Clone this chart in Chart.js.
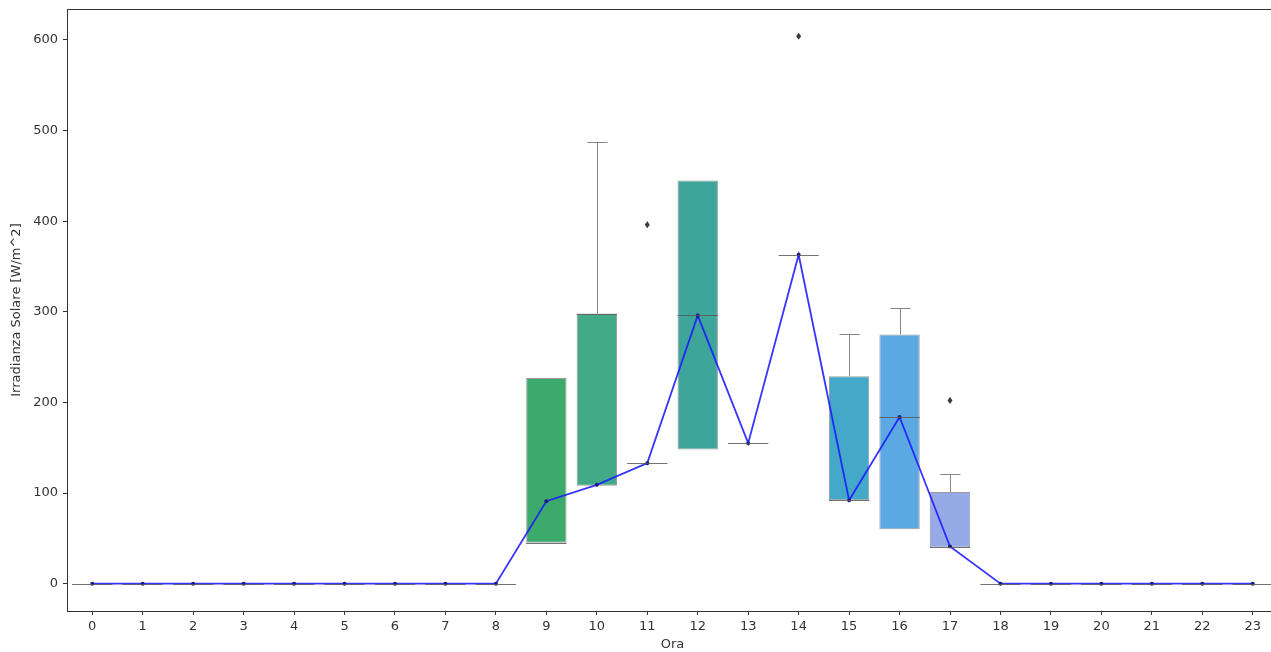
<!DOCTYPE html>
<html>
<head>
<meta charset="utf-8">
<script src="https://cdn.jsdelivr.net/npm/chart.js@4.4.1/dist/chart.umd.min.js"></script>
<style>
html,body{margin:0;padding:0;background:#fff;overflow:hidden;}
#wrap{width:1271px;height:652px;overflow:hidden;}
</style>
</head>
<body>
<div id="wrap"><canvas id="c" width="1282" height="652"></canvas></div>
<script>
const hours = ['0','1','2','3','4','5','6','7','8','9','10','11','12','13','14','15','16','17','18','19','20','21','22','23'];
// box quartiles (null where the box collapses to a line)
const q1 = [null,null,null,null,null,null,null,null,null,45,108,null,148,null,null,92,60,40,null,null,null,null,null,null];
const q3 = [null,null,null,null,null,null,null,null,null,227,298,null,445,null,null,229,275,101,null,null,null,null,null,null];
const medians = [0,0,0,0,0,0,0,0,0,45,298,133,296,155,363,92,184,40,0,0,0,0,0,0];
const whiskerHigh = [null,null,null,null,null,null,null,null,null,null,487,null,null,null,null,275,304,121,null,null,null,null,null,null];
const outlierHour = [11,14,17];
const outlierValue = [396,604,202];
const meanLine = [0,0,0,0,0,0,0,0,0,91,109,133,296,155,363,92,184,41,0,0,0,0,0,0];
const boxColors = [null,null,null,null,null,null,null,null,null,'#3caa6a','#42aa87',null,'#3ea59b',null,null,'#44a8c8','#5ca8e2','#96aae8',null,null,null,null,null,null];

const boxData = q1.map((v,i)=> v===null ? null : [v, q3[i]]);

const boxPlugin = {
  id: 'boxExtras',
  afterDatasetsDraw(chart) {
    const ctx = chart.ctx, xs = chart.scales.x, ys = chart.scales.y;
    const step = xs.getPixelForValue(1) - xs.getPixelForValue(0);
    const half = step * 0.4;
    ctx.save();
    ctx.strokeStyle = 'rgba(120,120,120,0.9)';
    ctx.lineWidth = 1;
    whiskerHigh.forEach((w,i)=>{
      if (w===null) return;
      const x = Math.round(xs.getPixelForValue(i)) + 0.5;
      const yw = Math.round(ys.getPixelForValue(w)) + 0.5;
      ctx.beginPath();
      ctx.moveTo(x, ys.getPixelForValue(q3[i]));
      ctx.lineTo(x, yw);
      ctx.moveTo(x-half/2, yw);
      ctx.lineTo(x+half/2, yw);
      ctx.stroke();
    });
    ctx.strokeStyle = 'rgba(90,90,90,0.85)';
    medians.forEach((m,i)=>{
      const x = xs.getPixelForValue(i);
      const y = Math.round(ys.getPixelForValue(m)) + 0.5;
      ctx.beginPath();
      ctx.moveTo(x-half, y);
      ctx.lineTo(x+half, y);
      ctx.stroke();
    });
    ctx.fillStyle = '#3a3a3a';
    outlierHour.forEach((h,k)=>{
      const x = xs.getPixelForValue(h), y = ys.getPixelForValue(outlierValue[k]);
      ctx.beginPath();
      ctx.moveTo(x, y-3.5); ctx.lineTo(x+2.5, y); ctx.lineTo(x, y+3.5); ctx.lineTo(x-2.5, y);
      ctx.closePath(); ctx.fill();
    });
    ctx.restore();
  },
  afterDraw(chart) {
    const ctx = chart.ctx, a = chart.chartArea;
    ctx.save();
    ctx.strokeStyle = '#333';
    ctx.lineWidth = 1;
    ctx.strokeRect(Math.round(a.left)+0.5, Math.round(a.top)+0.5, Math.round(a.right-a.left)-1, Math.round(a.bottom-a.top));
    ctx.restore();
  }
};

new Chart(document.getElementById('c'), {
  data: {
    labels: hours,
    datasets: [
      {
        type: 'line',
        data: meanLine,
        borderColor: 'rgba(25,25,255,0.88)',
        borderWidth: 1.8,
        pointRadius: 2,
        pointBackgroundColor: '#1a1a80',
        pointBorderWidth: 0,
        tension: 0,
        order: 0
      },
      {
        type: 'bar',
        data: boxData,
        backgroundColor: boxColors,
        borderColor: 'rgba(90,90,90,0.6)',
        borderWidth: 1,
        borderSkipped: false,
        barPercentage: 0.8,
        categoryPercentage: 1.0,
        order: 1
      }
    ]
  },
  options: {
    responsive: false,
    animation: false,
    devicePixelRatio: 1,
    layout: { padding: { top: 9, right: 0, left: 0, bottom: 0 } },
    plugins: { legend: { display: false }, tooltip: { enabled: false } },
    scales: {
      x: {
        type: 'category',
        offset: true,
        grid: { display: true, drawOnChartArea: false, tickLength: 4, color: '#333', offset: false },
        border: { color: '#333' },
        ticks: { color: '#333', font: { family: 'DejaVu Sans', size: 13 }, padding: 4, maxRotation: 0, autoSkip: false },
        title: { display: true, text: 'Ora', color: '#333', font: { family: 'DejaVu Sans', size: 13 }, padding: { top: 0, bottom: 0 } },
        afterFit(s) { s.height = 41; s.paddingLeft = 0; s.paddingRight = 0; }
      },
      y: {
        min: -30.2,
        max: 634.2,
        afterBuildTicks(s) { s.ticks = [0,100,200,300,400,500,600].map(v=>({value:v})); },
        grid: { display: true, drawOnChartArea: false, tickLength: 4, color: '#333' },
        border: { color: '#333' },
        ticks: { color: '#333', font: { family: 'DejaVu Sans', size: 13 }, padding: 5 },
        title: { display: true, text: 'Irradianza Solare [W/m^2]', color: '#333', font: { family: 'DejaVu Sans', size: 13 }, padding: { top: 9, bottom: 0 } },
        afterFit(s) { s.width = 67; s.paddingTop = 0; s.paddingBottom = 0; }
      }
    }
  },
  plugins: [boxPlugin]
});
</script>
</body>
</html>
